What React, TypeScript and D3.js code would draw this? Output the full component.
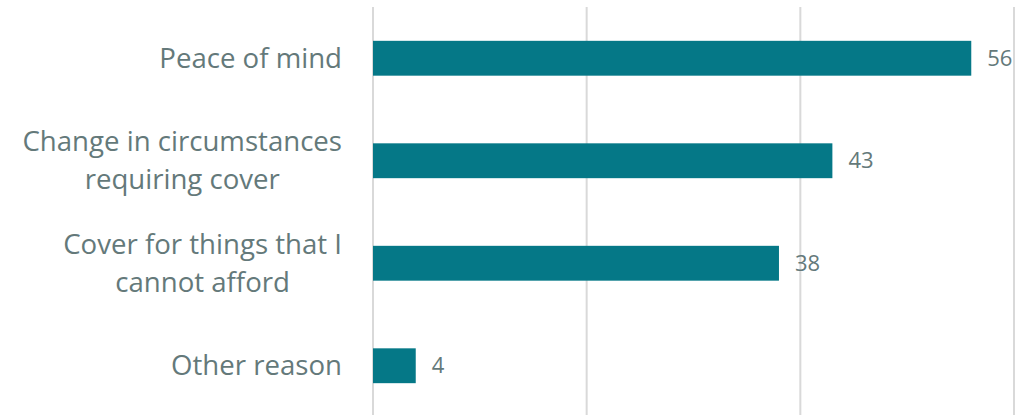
import React from "react";
import * as d3 from "d3";

const categories: string[][] = [
  ["Peace of mind"],
  ["Change in circumstances", "requiring cover"],
  ["Cover for things that I", "cannot afford"],
  ["Other reason"],
];
const values: number[] = [56, 43, 38, 4];
const ticks: number[] = [0, 20, 40, 60];

const font = "'Open Sans', sans-serif";
const labelSize = 27.6;

function measure(text: string, size: number): number {
  const c = document.createElement("canvas").getContext("2d");
  if (!c) return text.length * size * 0.5;
  c.font = `${size}px ${font}`;
  return c.measureText(text).width;
}

export default function App() {
  const W = 1020;
  const H = 415;
  const x = d3.scaleLinear().domain([0, 60]).range([373, 1014]);
  const keys = categories.map((c) => c.join(" "));
  const y = d3.scaleBand().domain(keys).range([7, 417]).paddingInner(0.66).paddingOuter(0.33);
  const textColor = "#64797a";
  const lineH = 38;
  const labelRight = 342;
  return (
    <svg width={W} height={H} style={{ position: "absolute", left: 0, top: 0, background: "#fff" }}>
      {ticks.map((t) => (
        <line key={t} x1={x(t)} x2={x(t)} y1={7} y2={H} stroke="#d9d9d9" strokeWidth={2} />
      ))}
      {categories.map((c, i) => {
        const k = keys[i];
        const y0 = y(k)!;
        const cy = y0 + y.bandwidth() / 2;
        const maxW = Math.max(...c.map((l) => measure(l, labelSize)));
        const cx = labelRight - maxW / 2;
        return (
          <g key={k}>
            <rect x={x(0)} y={y0} width={x(values[i]) - x(0)} height={y.bandwidth()} fill="#057887" />
            <text x={x(values[i]) + 16} y={cy} dy="0.35em" fill={textColor} fontSize={22} fontFamily={font}>
              {values[i]}
            </text>
            {c.map((line, j) => (
              <text
                key={j}
                x={cx}
                y={cy + (j - (c.length - 1) / 2) * lineH}
                dy="0.35em"
                textAnchor="middle"
                fill={textColor}
                fontSize={labelSize}
                fontFamily={font}
              >
                {line}
              </text>
            ))}
          </g>
        );
      })}
    </svg>
  );
}
